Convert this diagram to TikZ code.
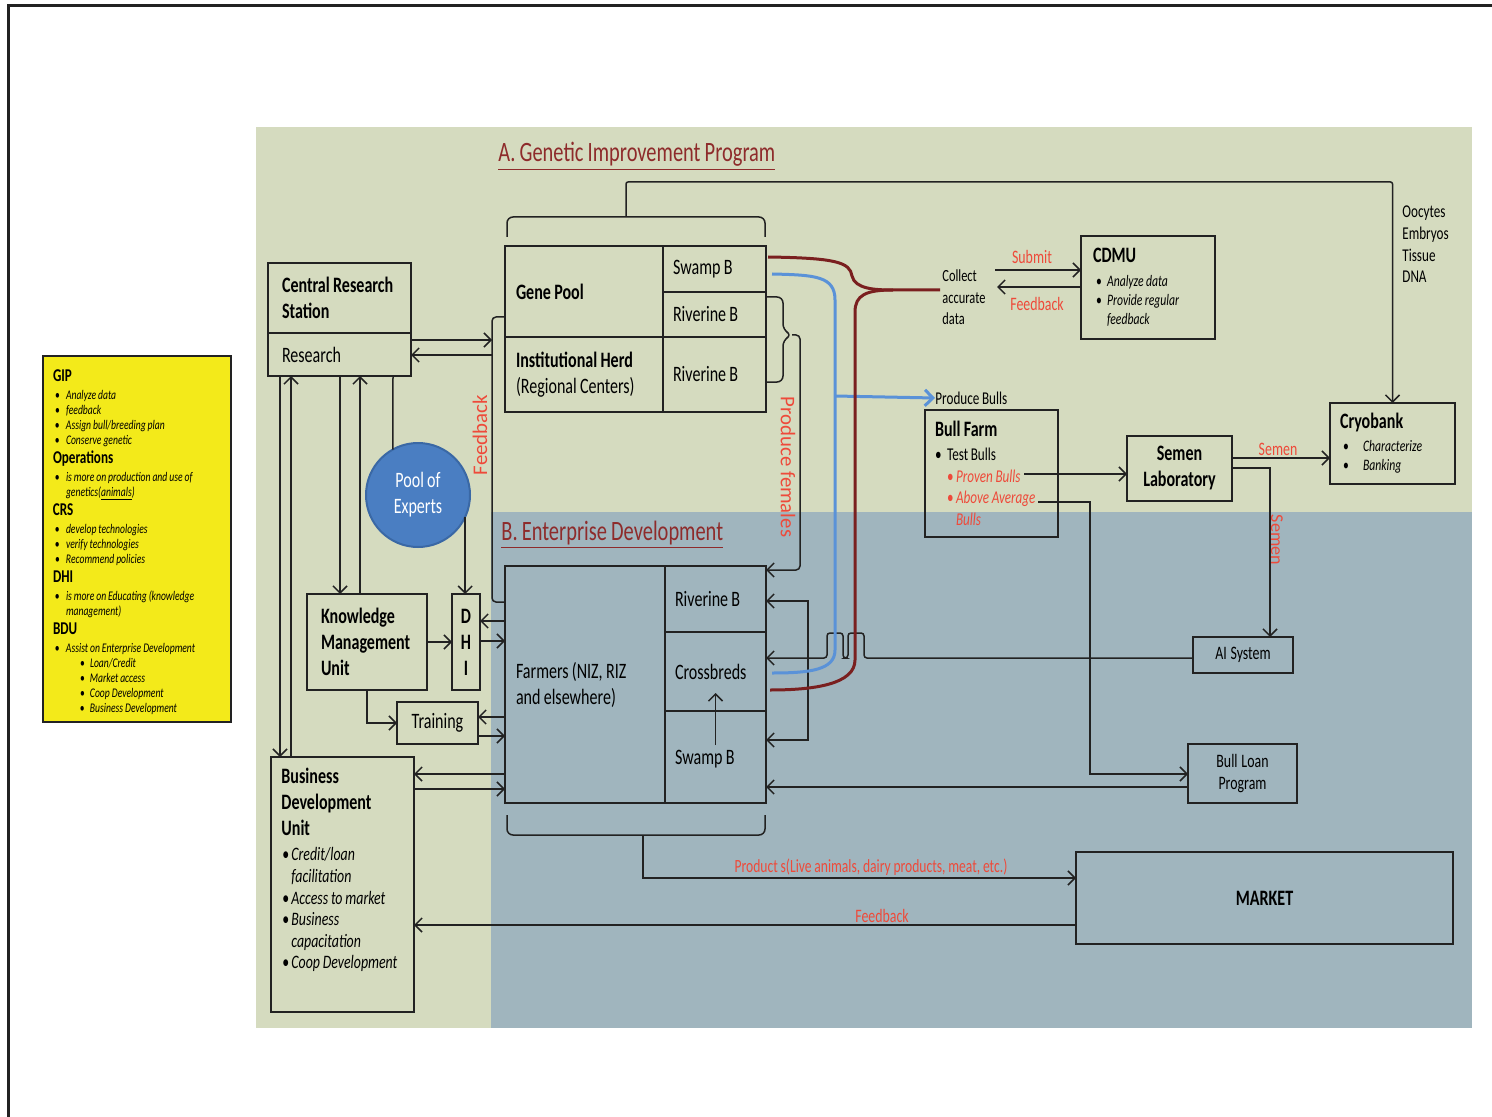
\documentclass[tikz,border=0pt]{standalone}
\usepackage{fontspec}
\setmainfont{Carlito}[FakeStretch=0.73, WordSpace=0.9]
\newfontfamily\rotfont{Carlito}
\usetikzlibrary{arrows.meta}
\setlength{\parindent}{0pt}
\definecolor{bggreen}{HTML}{D5DBBF}
\definecolor{bgblue}{HTML}{A0B5BE}
\definecolor{yel}{HTML}{F3EA1A}
\definecolor{lblred}{HTML}{EE4A3A}
\definecolor{titred}{HTML}{8E2B2B}
\definecolor{dred}{HTML}{7A1F1F}
\definecolor{lblue}{HTML}{5A92D8}
\definecolor{poefill}{HTML}{4A7EC2}
\definecolor{poeedge}{HTML}{3A68A5}
\definecolor{ink}{HTML}{222222}
\newcommand{\fsz}[2]{\fontsize{#1}{#2}\selectfont}
\newcommand{\myyh}[1]{\par{\fsz{9}{9.5}\bfseries\upshape #1\par}\vspace{1.5pt}}
\newcommand{\myyb}[1]{\par\hangindent=6.5pt\hangafter=1\hspace*{1pt}\makebox[5.5pt][l]{\upshape\textbullet}#1}
\newcommand{\myybb}[1]{\par\hangindent=18.5pt\hangafter=1\hspace*{13.5pt}\makebox[5pt][l]{\upshape\textbullet}#1}
\newcommand{\mycb}[1]{\par\hangindent=7pt\hangafter=1\hspace*{1.5pt}\makebox[5.5pt][l]{\upshape\textbullet}#1}
\newcommand{\mykb}[1]{\par\hspace*{1.5pt}\makebox[10pt][l]{\upshape\textbullet}#1}
\newcommand{\mybb}[1]{\par\hangindent=5pt\hangafter=1\hspace*{0.5pt}\makebox[4.5pt][l]{\upshape\textbullet}#1}
\tikzset{
  bx/.style={draw=ink, line width=1pt, inner sep=0pt, outer sep=0pt},
  ln/.style={draw=ink, line width=0.75pt},
  arr/.style={ln, -{Straight Barb[length=3.5pt,width=7pt]}},
  arrb/.style={ln, {Straight Barb[length=3.5pt,width=7pt]}-{Straight Barb[length=3.5pt,width=7pt]}},
  lbl/.style={text=lblred, font=\fsz{9.5}{11}, inner sep=0pt},
  rlbl/.style={text=lblred, font={\rotfont\fsz{10.4}{12}}, inner sep=0pt},
  txt/.style={inner sep=0pt, align=left},
  blueln/.style={draw=lblue, line width=1.5pt},
  redln/.style={draw=dred, line width=1.5pt},
}
\begin{document}
\begin{tikzpicture}[x=0.5pt,y=-0.5pt, font=\fsz{11}{13}, execute at begin node={\spaceskip=0pt\xspaceskip=0pt\relax}]
\useasboundingbox (0,0) rectangle (1492,1117);
\fill[white] (0,0) rectangle (1492,1117);
\fill[bggreen] (256,127) rectangle (1472,1028);
\fill[bgblue] (491,512) rectangle (1472,1028);
\draw[ink, line width=1.5pt] (8,1117) -- (8,6) -- (1492,6);

% titles
\node[anchor=base west, inner sep=0pt, text=titred, font=\fsz{14}{16}] (titA) at (498,162) {\underline{A. Genetic Improvement Program}};
\node[anchor=base west, inner sep=0pt, text=titred, font=\fsz{14}{16}] (titB) at (501,540) {\underline{B. Enterprise Development}};

% legend
\node[bx, fill=yel, minimum height=183pt, text width=84pt, inner xsep=5pt, align=left, font=\fsz{6.6}{7.5}\itshape] (legend) at (137,539) {%
\myyh{GIP}
\myyb{Analyze data}
\myyb{feedback}
\myyb{Assign bull/breeding plan}
\myyb{Conserve genetic}
\myyh{Operations}
\myyb{is more on production and use of\newline genetics(\underline{animals})}
\myyh{CRS}
\myyb{develop technologies}
\myyb{verify technologies}
\myyb{Recommend policies}
\myyh{DHI}
\myyb{is more on Educating (knowledge\newline management)}
\myyh{BDU}
\myyb{Assist on Enterprise Development}
\myybb{Loan/Credit}
\myybb{Market access}
\myybb{Coop Development}
\myybb{Business Development}\par};

% Central research station
\node[bx, minimum height=35pt, text width=57.5pt, inner xsep=7pt, align=left, font=\fsz{11}{13}\bfseries] (crs) at (339.5,298) {Central Research\\Station};
\node[bx, minimum height=21.5pt, text width=57.5pt, inner xsep=7pt, align=left] (res) at (339.5,354.5) {Research};

% gene pool block
\node[bx, minimum height=45.5pt, text width=68pt, inner xsep=5.5pt, align=left, font=\fsz{11}{13}\bfseries] (gp) at (584,291.5) {Gene Pool};
\node[bx, minimum height=23pt, text width=41.5pt, inner xsep=5pt, align=left] (gpswamp) at (714.5,269) {Swamp B};
\node[bx, minimum height=22.5pt, text width=41.5pt, inner xsep=5pt, align=left] (gpriv) at (714.5,314.5) {Riverine B};
\node[bx, minimum height=37.5pt, text width=68pt, inner xsep=5.5pt, align=left] (ih) at (584,374.5) {\textbf{Institutional Herd}\\(Regional Centers)};
\node[bx, minimum height=37.5pt, text width=41.5pt, inner xsep=5pt, align=left] (ihriv) at (714.5,374.5) {Riverine B};

% farmers block
\node[bx, minimum height=118.5pt, text width=69pt, inner xsep=5.5pt, align=left] (farm) at (585,684.5) {Farmers (NIZ, RIZ\\and elsewhere)};
\node[bx, minimum height=33pt, text width=40.5pt, inner xsep=5pt, align=left] (fr) at (715.5,599) {Riverine B};
\node[bx, minimum height=39.5pt, text width=40.5pt, inner xsep=5pt, align=left] (fc) at (715.5,671.5) {Crossbreds};
\node[bx, minimum height=46pt, text width=40.5pt, inner xsep=5pt, align=left] (fs) at (715.5,757) {\raisebox{-9pt}{Swamp B}};

% left units
\node[circle, fill=poefill, draw=poeedge, line width=1pt, minimum size=52pt, inner sep=0pt, outer sep=0pt, text=white, align=center] (poe) at (418,495) {Pool of\\Experts};
\node[bx, minimum height=48pt, text width=46pt, inner xsep=7pt, align=left, font=\fsz{11}{13}\bfseries] (kmu) at (367,642) {Knowledge\\Management\\Unit};
\node[bx, minimum height=48pt, text width=14pt, align=center, font=\fsz{11}{13}\bfseries] (dhi) at (466,642) {D\\H\\I};
\node[bx, minimum height=21pt, text width=40.5pt, align=center] (train) at (437.5,723) {Training};
\node[bx, minimum width=71.5pt, minimum height=127.5pt] (bdu) at (342.5,884.5) {};
\node[txt, anchor=north west, text width=64pt] (bdutxt) at (281,768) {%
{\bfseries Business\newline Development\newline Unit\par}\vspace{1.7pt}
{\fsz{9.5}{10.8}\itshape
\mybb{Credit/loan\newline facilitation}
\mybb{Access to market}
\mybb{Business\newline capacitation}
\mybb{Coop Development}\par}};

% right units
\node[bx, minimum height=51.5pt, text width=55pt, inner xsep=6pt, align=left] (cdmu) at (1148,287.5) {%
{\bfseries CDMU\par}\vspace{2.5pt}
{\fsz{8}{9.5}\itshape
\mycb{Analyze data}
\mycb{Provide regular\newline feedback}\par}};
\node[bx, minimum height=63.5pt, text width=56.5pt, inner xsep=5pt, align=left] (bf) at (991.5,473.5) {%
{\bfseries Bull Farm\par}\vspace{1.25pt}
{\fsz{9}{10.75}
\makebox[6pt][l]{\textbullet}Test Bulls\par
\hspace*{6pt}\textcolor{lblred}{\itshape\makebox[4.5pt][l]{\upshape\textbullet}Proven Bulls}\par
\hspace*{6pt}\textcolor{lblred}{\itshape\makebox[4.5pt][l]{\upshape\textbullet}Above Average}\par
\hspace*{10.5pt}\textcolor{lblred}{\itshape Bulls}\par}};
\node[bx, minimum height=32.5pt, text width=52.5pt, align=center, font=\fsz{11}{13}\bfseries] (sl) at (1179.5,468.5) {Semen\\Laboratory};
\node[bx, minimum height=40.5pt, text width=52.5pt, inner xsep=5pt, align=left] (cryo) at (1392.5,443.5) {%
{\bfseries Cryobank\par}\vspace{2pt}
{\fsz{8}{9.5}\itshape
\mykb{Characterize}
\mykb{Banking}\par}};
\node[bx, minimum height=18pt, text width=50pt, align=center, font=\fsz{9.5}{11}] (ai) at (1243,655) {AI System};
\node[bx, minimum height=29.5pt, text width=54.5pt, align=center, font=\fsz{9.5}{11}] (blp) at (1242.5,773.5) {Bull Loan\\Program};
\node[bx, minimum height=46pt, text width=188.5pt, align=center, font=\fsz{11}{13}\bfseries] (mkt) at (1264.5,898) {MARKET};

% free texts
\node[txt, anchor=west, font=\fsz{8.5}{10.75}] (collect) at (942,297.5) {Collect\\accurate\\data};
\node[txt, anchor=west, font=\fsz{9}{10.8}] (oocy) at (1402,244.5) {Oocytes\\Embryos\\Tissue\\DNA};
\node[txt, anchor=west, font=\fsz{9}{11}] (lpb) at (935,398) {Produce Bulls};
\node[lbl] (lsubmit) at (1032,257) {Submit};
\node[lbl] (lfb1) at (1037,304) {Feedback};
\node[lbl] (lsemen) at (1278,449) {Semen};
\node[rlbl, rotate=-90, font={\rotfont\fsz{9}{11}}] (lsemen2) at (1277,540) {Semen};
\node[rlbl, rotate=-90] (lpf) at (788,467) {Produce females};
\node[rlbl, rotate=90] (lfb2) at (480,435) {Feedback};
\node[lbl, font=\fsz{9.3}{11}] (lprod) at (871,867) {Product s(Live animals, dairy products, meat, etc.)};
\node[lbl] (lfb3) at (882,916) {Feedback};

% named free points
\coordinate (provEnd) at (1024,474);
\coordinate (aboveEnd) at (1038,502);

% connectors left
\draw[arr] (res.east |- 0,340) -- (492,340);
\draw[arr] (492,355) -- (res.east |- 0,355);
\draw[ln, rounded corners=2pt] (farm.west |- 0,602) -- (492,602) -- (492,317) -- (gp.west |- 0,317);
\draw[arr] (280,0 |- res.south) -- (280,0 |- bdu.north);
\draw[arr] (291,0 |- bdu.north) -- (291,0 |- res.south);
\draw[arr] (340,0 |- res.south) -- (340,0 |- kmu.north);
\draw[arr] (360,0 |- kmu.north) -- (360,0 |- res.south);
\draw[ln] (393,0 |- res.south) -- (poe.119);
\draw[arr] (poe.-25) -- (poe.-25 |- dhi.north);
\draw[arr] (kmu.east) -- (dhi.west);
\draw[arr] (farm.west |- 0,621) -- (dhi.east |- 0,621);
\draw[arr] (dhi.east |- 0,641) -- (farm.west |- 0,641);
\draw[arr] (367,0 |- kmu.south) |- (train.west);
\draw[arr] (farm.west |- 0,717) -- (train.east |- 0,717);
\draw[arr] (train.east |- 0,736) -- (farm.west |- 0,736);
\draw[arr] (farm.west |- 0,774) -- (bdu.east |- 0,774);
\draw[arr] (bdu.east |- 0,789) -- (farm.west |- 0,789);
\draw[arr] (mkt.west |- 0,925) -- (bdu.east |- 0,925);

% brackets
\draw[ln, rounded corners=3pt] (507,237) -- (507,217) -- (765,217) -- (765,237);
\draw[arr, rounded corners=1pt] (626,217) -- (626,182) -| (cryo.north);
\draw[ln, rounded corners=3pt] (507,815) -- (507,835) -- (765,835) -- (765,815);
\draw[arr] (643,835) -- (643,878) -- (mkt.west |- 0,878);
\draw[ln, rounded corners=3pt] (gpriv.east |- 0,297) -- (783,297) -- (783,330) -- (792,335) -- (783,340) -- (783,382) -- (ihriv.east |- 0,382);
\draw[arr, rounded corners=2pt] (792,335) -- (800,335) -- (800,570) -- (fr.east |- 0,570);
\draw[arrb] (fr.east |- 0,601) -- (808,601) -- (808,740) -- (fs.east |- 0,740);
\draw[arr] (fs.center |- 0,745) -- (fs.center |- 0,693);

% right connectors
\draw[arr, rounded corners=1.5pt] (ai.west |- 0,658) -- (864,658) -- (864,633) -- (848,633) -- (848,658) -- (843,658) -- (843,633) -- (827,633) -- (827,658) -- (fc.east |- 0,658);
\draw[arr] (sl.east |- 0,458) -- (cryo.west |- 0,458);
\draw[arr] (sl.east |- 0,468) -- (1270,468) -- (1270,0 |- ai.north);
\draw[arr] (provEnd) -- (sl.west |- provEnd);
\draw[arr] (aboveEnd) -- (1090,502) -- (1090,774) -- (blp.west |- 0,774);
\draw[arr] (blp.west |- 0,787) -- (fs.east |- 0,787);
\draw[arr] (995,270) -- (cdmu.west |- 0,270);
\draw[arr] (cdmu.west |- 0,287) -- (997,287);

% blue and red curves
\draw[blueln] (772,274) .. controls (815,275) and (835,276) .. (835,300) -- (835,650) .. controls (835,670) and (810,673) .. (772,673);
\draw[blueln, -{Straight Barb[length=4pt,width=8pt]}] (835,396) -- (lpb.west);
\draw[redln] (768,257) .. controls (835,258) and (850,262) .. (852,276) .. controls (855,289) and (875,290) .. (893,290) -- (940,290);
\draw[redln] (893,290) .. controls (866,290) and (855,295) .. (855,312) -- (855,660) .. controls (855,684) and (815,690) .. (770,690);
\end{tikzpicture}
\end{document}
